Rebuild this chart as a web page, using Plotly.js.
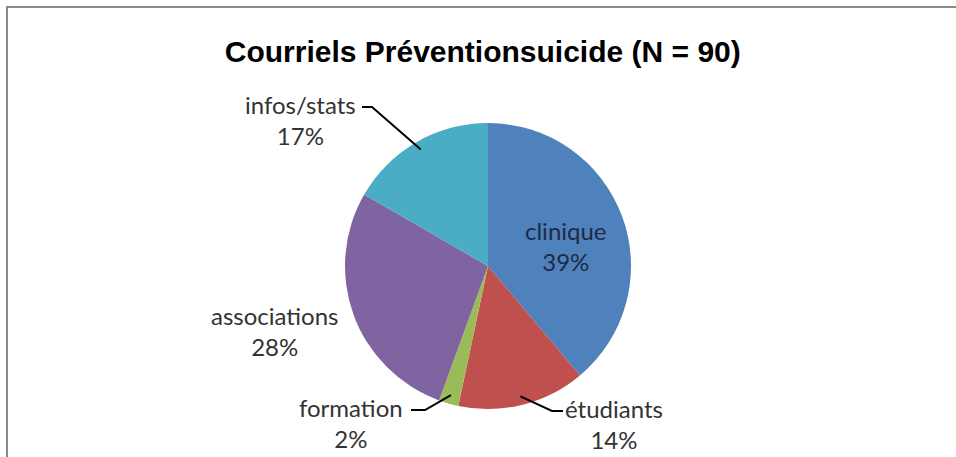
<!DOCTYPE html>
<html>
<head>
<meta charset="utf-8">
<script src="https://cdn.plot.ly/plotly-3.0.1.min.js"></script>
<style>
  html, body { margin: 0; padding: 0; background: #fff; }
  #wrap { position: relative; width: 956px; height: 457px; overflow: hidden; }
  #chart { position: absolute; left: 0; top: 0; width: 956px; height: 457px; }
  #frame { position: absolute; left: 6px; top: 6px; width: 1000px; height: 500px;
           border-left: 2px solid #8a8a8a; border-top: 2px solid #8a8a8a; pointer-events: none; }
</style>
</head>
<body>
<div id="wrap">
  <div id="chart"></div>
  <div id="frame"></div>
</div>
<script>
// ---- data ----
var categories = ["clinique", "étudiants", "formation", "associations", "infos/stats"];
var counts = [35, 13, 2, 25, 15];
var colors = ["#4F81BD", "#C0504D", "#9BBB59", "#8064A2", "#4BACC6"];
var chartTitle = "Courriels Préventionsuicide (N = 90)";

// ---- layout constants ----
var W = 956, H = 457;
var CX = 488, CY = 266, R = 143;
var labelFont = { family: "Lato, 'Open Sans', sans-serif", size: 24, color: "#333333" };

var total = counts.reduce(function (a, b) { return a + b; }, 0);
function pct(i) { return Math.round(counts[i] / total * 100) + "%"; }
function px2x(px) { return px / W; }
function py2y(py) { return 1 - py / H; }
// mid-angle edge point of slice i (clockwise from 12 o'clock)
function edgePoint(i, k) {
  var before = 0;
  for (var j = 0; j < i; j++) before += counts[j];
  var a = (before + counts[i] / 2) / total * 2 * Math.PI;
  return [CX + R * k * Math.sin(a), CY - R * k * Math.cos(a)];
}

// outside labels: [index, text centre px, text centre py, elbow px, py, end px]
var outside = [
  [4, 300, 120, 372, 107, 362],
  [3, 275, 331, null, null, null],
  [2, 351, 423, 425, 410, 411],
  [1, 614, 424, 552, 411, 563]
];

var annotations = [];
var shapes = [];
outside.forEach(function (o) {
  var i = o[0];
  annotations.push({
    xref: "paper", yref: "paper",
    x: px2x(o[1]), y: py2y(o[2]),
    xanchor: "center", yanchor: "middle",
    text: categories[i] + "<br>" + pct(i),
    showarrow: false, font: labelFont, align: "center"
  });
  if (o[3] !== null) {
    var t = edgePoint(i, 0.94);
    shapes.push({
      type: "path", xref: "paper", yref: "paper",
      path: "M " + px2x(t[0]) + " " + py2y(t[1]) +
            " L " + px2x(o[3]) + " " + py2y(o[4]) +
            " L " + px2x(o[5]) + " " + py2y(o[4]),
      line: { color: "#000000", width: 2 }
    });
  }
});
// inside label for clinique
annotations.push({
  xref: "paper", yref: "paper",
  x: px2x(566), y: py2y(246),
  xanchor: "center", yanchor: "middle",
  text: categories[0] + "<br>" + pct(0),
  showarrow: false, font: { family: labelFont.family, size: 24, color: "#1f2a44" }, align: "center"
});

var trace = {
  type: "pie",
  labels: categories,
  values: counts,
  sort: false,
  direction: "clockwise",
  rotation: 0,
  marker: { colors: colors, line: { color: "#ffffff", width: 0 } },
  textinfo: "none",
  hoverinfo: "label+percent",
  showlegend: false,
  domain: { x: [px2x(CX - R), px2x(CX + R)], y: [py2y(CY + R), py2y(CY - R)] }
};

var layout = {
  width: W, height: H,
  margin: { l: 0, r: 0, t: 0, b: 0 },
  paper_bgcolor: "#ffffff",
  title: {
    text: "<b>" + chartTitle + "</b>",
    font: { family: "'Liberation Sans', Arial, sans-serif", size: 30, color: "#000000" },
    x: 0.505, xanchor: "center",
    y: 1 - 51 / H, yanchor: "middle"
  },
  annotations: annotations,
  shapes: shapes,
  showlegend: false
};

Plotly.newPlot("chart", [trace], layout, { displayModeBar: false, staticPlot: true });
</script>
</body>
</html>
